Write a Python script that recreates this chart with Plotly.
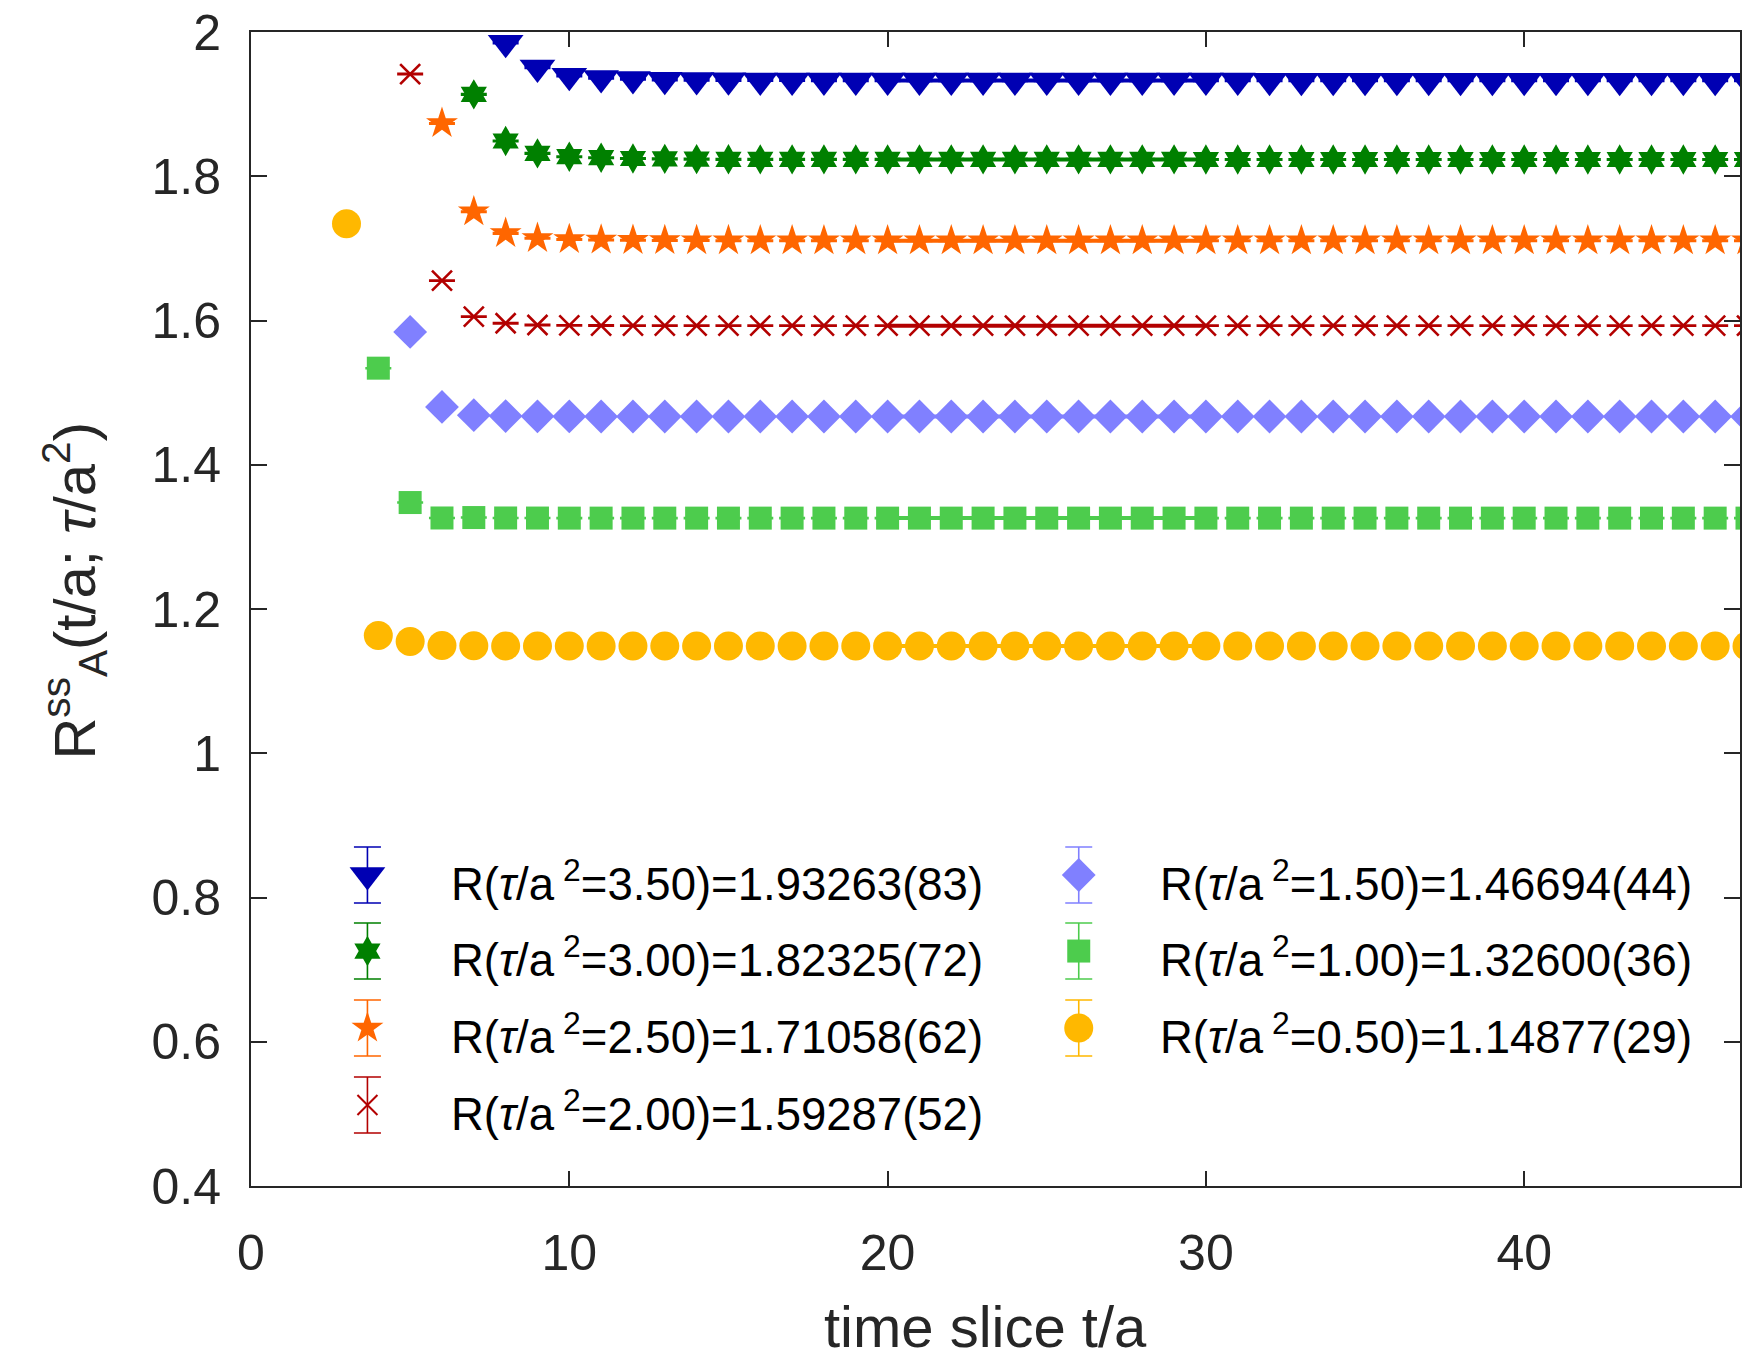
import plotly.graph_objects as go

# ---------------- data ----------------
tau_vals = [3.50, 3.00, 2.50, 2.00, 1.50, 1.00, 0.50]
fit_text = ["1.93263(83)", "1.82325(72)", "1.71058(62)", "1.59287(52)",
            "1.46694(44)", "1.32600(36)", "1.14877(29)"]
fit_vals = [1.93263, 1.82325, 1.71058, 1.59287, 1.46694, 1.32600, 1.14877]
fit_t_lo = 20
fit_t_hi = 30

t_350 = list(range(8, 48))
r_350 = [1.9850, 1.9508, 1.9393, 1.9361, 1.9347, 1.9337, 1.9333, 1.9331, 1.9329, 1.9328,
         1.9327, 1.9327, 1.9326, 1.9326, 1.9326, 1.9326, 1.9326, 1.9326, 1.9326, 1.9326,
         1.9326, 1.9326, 1.9326, 1.9326, 1.9325, 1.9325, 1.9325, 1.9325, 1.9325, 1.9325,
         1.9325, 1.9325, 1.9325, 1.9325, 1.9325, 1.9325, 1.9325, 1.9325, 1.9325, 1.9325]

t_300 = list(range(7, 48))
r_300 = [1.9136, 1.8489, 1.8318, 1.8271, 1.8257, 1.8246, 1.8240, 1.8237, 1.8235, 1.8234,
         1.8233, 1.8233, 1.8233, 1.8233, 1.8233, 1.8233, 1.8233, 1.8233, 1.8233, 1.8233,
         1.8233, 1.8233, 1.8233, 1.8232, 1.8232, 1.8232, 1.8232, 1.8232, 1.8232, 1.8232,
         1.8232, 1.8232, 1.8232, 1.8232, 1.8232, 1.8232, 1.8232, 1.8232, 1.8232, 1.8232,
         1.8232]

t_250 = list(range(6, 48))
r_250 = [1.8733, 1.7508, 1.7208, 1.7139, 1.7124, 1.7116, 1.7112, 1.7109, 1.7108, 1.7107,
         1.7106, 1.7106, 1.7106, 1.7106, 1.7106, 1.7106, 1.7106, 1.7106, 1.7106, 1.7106,
         1.7106, 1.7106, 1.7106, 1.7106, 1.7106, 1.7106, 1.7106, 1.7106, 1.7106, 1.7106,
         1.7106, 1.7106, 1.7106, 1.7106, 1.7106, 1.7106, 1.7106, 1.7106, 1.7106, 1.7106,
         1.7106, 1.7106]

t_200 = list(range(5, 48))
r_200 = [1.9417, 1.6552, 1.6053, 1.5962, 1.5938, 1.5932, 1.5930, 1.5929, 1.5929, 1.5929,
         1.5929, 1.5929, 1.5929, 1.5929, 1.5929, 1.5929, 1.5929, 1.5929, 1.5929, 1.5929,
         1.5929, 1.5929, 1.5929, 1.5929, 1.5929, 1.5929, 1.5929, 1.5929, 1.5929, 1.5929,
         1.5929, 1.5929, 1.5929, 1.5929, 1.5929, 1.5929, 1.5929, 1.5929, 1.5929, 1.5929,
         1.5929, 1.5929, 1.5929]

t_150 = list(range(5, 48))
r_150 = [1.5842, 1.4802, 1.4688, 1.4675, 1.4671, 1.4670, 1.4669, 1.4669, 1.4669, 1.4669,
         1.4669, 1.4669, 1.4669, 1.4669, 1.4669, 1.4669, 1.4669, 1.4669, 1.4669, 1.4669,
         1.4669, 1.4669, 1.4669, 1.4669, 1.4669, 1.4669, 1.4669, 1.4669, 1.4669, 1.4669,
         1.4669, 1.4669, 1.4669, 1.4669, 1.4669, 1.4669, 1.4669, 1.4669, 1.4669, 1.4669,
         1.4669, 1.4669, 1.4669]

t_100 = list(range(4, 48))
r_100 = [1.5339, 1.3476, 1.3262, 1.3268, 1.3262, 1.3261, 1.3260, 1.3260, 1.3260, 1.3260,
         1.3260, 1.3260, 1.3260, 1.3260, 1.3260, 1.3260, 1.3260, 1.3260, 1.3260, 1.3260,
         1.3260, 1.3260, 1.3260, 1.3260, 1.3260, 1.3260, 1.3260, 1.3260, 1.3260, 1.3260,
         1.3260, 1.3260, 1.3260, 1.3260, 1.3260, 1.3260, 1.3260, 1.3260, 1.3260, 1.3260,
         1.3260, 1.3260, 1.3260, 1.3260]

t_050 = list(range(3, 48))
r_050 = [1.7340, 1.1634, 1.1550, 1.1494, 1.1489, 1.1488, 1.1488, 1.1488, 1.1488, 1.1488,
         1.1488, 1.1488, 1.1488, 1.1488, 1.1488, 1.1488, 1.1488, 1.1488, 1.1488, 1.1488,
         1.1488, 1.1488, 1.1488, 1.1488, 1.1488, 1.1488, 1.1488, 1.1488, 1.1488, 1.1488,
         1.1488, 1.1488, 1.1488, 1.1488, 1.1488, 1.1488, 1.1488, 1.1488, 1.1488, 1.1488,
         1.1488, 1.1488, 1.1488, 1.1488, 1.1488]

# statistical errors (tiny, below pixel resolution)
errs = [0.0009, 0.0008, 0.0007, 0.0006, 0.0005, 0.0004, 0.0003]

x_ticks = [0, 10, 20, 30, 40]
y_ticks = [0.4, 0.6, 0.8, 1.0, 1.2, 1.4, 1.6, 1.8, 2.0]
y_ticktext = ["0.4", "0.6", "0.8", "1", "1.2", "1.4", "1.6", "1.8", "2"]

t_all = [t_350, t_300, t_250, t_200, t_150, t_100, t_050]
r_all = [r_350, r_300, r_250, r_200, r_150, r_100, r_050]

# ---------------- style ----------------
colors = ["#0000b3", "#008000", "#ff6600", "#b30000", "#8080ff", "#4dcc4d", "#ffb800"]
symbols = ["triangle-down", "hexagram", "star", "x-thin", "diamond", "square", "circle"]
sizes = [31, 23, 24, 20, 26, 23, 29]
FONT = "Liberation Sans, Arial, Helvetica, sans-serif"
AX = "#262626"

fig = go.Figure()

# fit lines
for i in range(7):
    fig.add_trace(go.Scatter(
        x=[fit_t_lo, fit_t_hi], y=[fit_vals[i], fit_vals[i]], mode="lines",
        line=dict(color=colors[i], width=4), showlegend=False, hoverinfo="skip"))

# data points with error bars
for i in range(7):
    is_x = symbols[i] == "x-thin"
    fig.add_trace(go.Scatter(
        x=t_all[i], y=r_all[i], mode="markers",
        marker=dict(symbol=symbols[i], size=sizes[i], color=colors[i],
                    line=dict(color=colors[i], width=2.6 if is_x else 0)),
        error_y=dict(type="constant", value=errs[i], color=colors[i],
                     thickness=2, width=13),
        showlegend=False))

# ---------------- manual legend (overlay axes 0..1 over the plot area) ----------------
leg_cols_x = [0.0782, 0.5559]
leg_text_x = [0.1328, 0.6089]
leg_rows_y = [0.2695, 0.2036, 0.1369, 0.0702]
leg_slots = [(0, 0), (0, 1), (0, 2), (0, 3), (1, 0), (1, 1), (1, 2)]
err_half = 28 / 1154
annots = []
for i in range(7):
    c, r = leg_slots[i]
    is_x = symbols[i] == "x-thin"
    fig.add_trace(go.Scatter(
        x=[leg_cols_x[c]], y=[leg_rows_y[r]], xaxis="x2", yaxis="y2", mode="markers",
        marker=dict(symbol=symbols[i], size=sizes[i], color=colors[i],
                    line=dict(color=colors[i], width=2 if is_x else 0)),
        error_y=dict(type="constant", value=err_half, color=colors[i],
                     thickness=1.6, width=13.5),
        showlegend=False, hoverinfo="skip"))
    annots.append(dict(
        xref="paper", yref="paper", x=leg_text_x[c], y=leg_rows_y[r], yshift=-6,
        xanchor="left", yanchor="middle", showarrow=False,
        text=f"R(<i>τ</i>/a\u2009<sup>2</sup>={tau_vals[i]:.2f})={fit_text[i]}",
        font=dict(family=FONT, size=45.5, color="black")))

# axis titles
annots.append(dict(xref="paper", yref="paper", x=0.4936, y=-0.122,
                   xanchor="center", yanchor="middle", showarrow=False,
                   text="time slice t/a", font=dict(family=FONT, size=58, color=AX)))
annots.append(dict(xref="paper", yref="paper", x=0, xshift=-176, y=0.516,
                   xanchor="center", yanchor="middle", showarrow=False, textangle=-90,
                   text="R<sup>ss</sup><sub>A</sub>(t/a; <i>τ</i>/a<sup>2</sup>)",
                   font=dict(family=FONT, size=58, color=AX)))

fig.update_layout(
    width=1742, height=1360,
    margin=dict(l=251, r=0, t=32, b=174),
    paper_bgcolor="white", plot_bgcolor="white",
    font=dict(family=FONT, color=AX),
    showlegend=False,
    annotations=annots,
    xaxis=dict(range=[0, 46.78], tickvals=x_ticks, ticks="inside", ticklen=15,
               tickwidth=2, tickcolor=AX, showline=True, linewidth=2, linecolor=AX,
               mirror="ticks", showgrid=False, zeroline=False,
               tickfont=dict(family=FONT, size=50, color=AX), ticklabelstandoff=22),
    yaxis=dict(range=[0.4, 2.0], tickvals=y_ticks, ticktext=y_ticktext, ticks="inside",
               ticklen=16, tickwidth=2, tickcolor=AX, showline=True, linewidth=2,
               linecolor=AX, mirror="ticks", showgrid=False, zeroline=False,
               tickfont=dict(family=FONT, size=50, color=AX), ticklabelstandoff=18),
    xaxis2=dict(overlaying="x", range=[0, 1], visible=False),
    yaxis2=dict(overlaying="y", range=[0, 1], visible=False),
)

fig.write_html("out.html", config={"displayModeBar": False})
